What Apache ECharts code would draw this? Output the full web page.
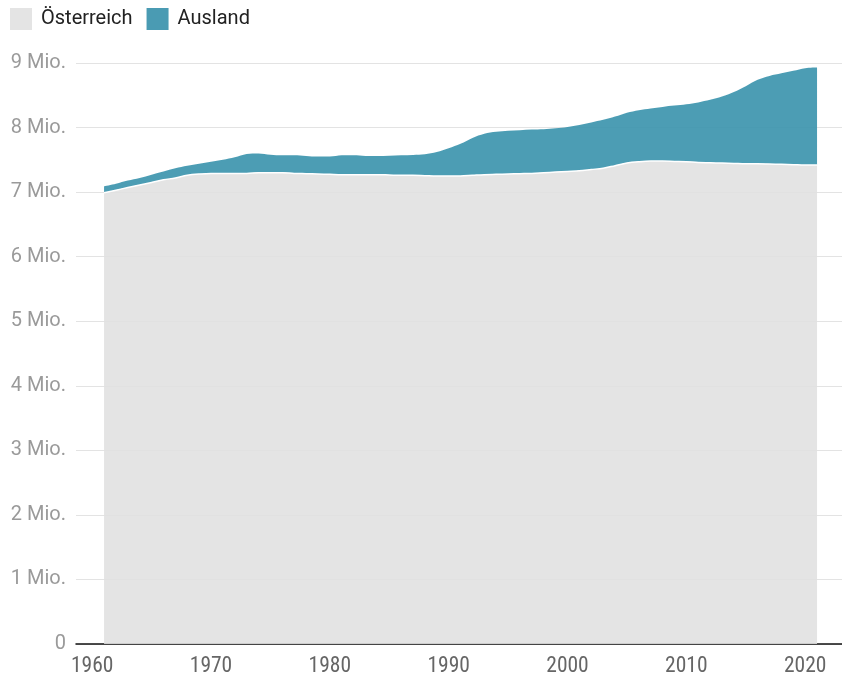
<!DOCTYPE html>
<html><head><meta charset="utf-8">
<script src="https://cdn.jsdelivr.net/npm/echarts@6/dist/echarts.min.js"></script>
<style>html,body{margin:0;padding:0;background:#fff}#c{width:842px;height:676px}</style>
</head><body><div id="c"></div>
<script>
const years = [];
for (let y = 1961; y <= 2021; y++) years.push(y);
const oesterreich = [6.99,7.03,7.07,7.11,7.15,7.19,7.22,7.26,7.28,7.29,
  7.29,7.29,7.29,7.30,7.30,7.30,7.29,7.285,7.28,7.275,
  7.27,7.27,7.27,7.27,7.265,7.26,7.26,7.255,7.25,7.25,
  7.25,7.26,7.27,7.275,7.28,7.285,7.29,7.30,7.31,7.32,
  7.33,7.35,7.37,7.41,7.45,7.47,7.48,7.48,7.475,7.47,
  7.46,7.455,7.45,7.445,7.44,7.44,7.435,7.43,7.425,7.42,7.42];
const ausland = [0.10,0.10,0.11,0.11,0.12,0.13,0.15,0.15,0.16,0.18,
  0.21,0.25,0.30,0.30,0.28,0.27,0.28,0.275,0.27,0.275,
  0.30,0.30,0.29,0.29,0.30,0.31,0.315,0.33,0.37,0.43,
  0.50,0.58,0.635,0.66,0.67,0.675,0.68,0.675,0.68,0.69,
  0.71,0.73,0.75,0.76,0.78,0.80,0.815,0.84,0.865,0.89,
  0.93,0.975,1.03,1.105,1.20,1.30,1.365,1.41,1.455,1.50,1.51];
const xTicks = [1960,1970,1980,1990,2000,2010,2020];

const chart = echarts.init(document.getElementById('c'), null, {renderer:'canvas'});
chart.setOption({
  animation: false,
  legend: {
    left: 10, top: 8, padding: 0, itemWidth: 22, itemHeight: 22, itemGap: 14, icon: 'rect',
    textStyle: {fontFamily: 'Roboto', fontSize: 20, color: '#222', padding: [0,0,0,4]},
    data: [{name: 'Österreich', itemStyle: {color: '#e4e4e4', opacity: 1}}, {name: 'Ausland', itemStyle: {color: '#4a9bb3', opacity: 1}}]
  },
  grid: {left: 76, right: 0, top: 63, bottom: 32, containLabel: false, outerBoundsMode: 'none'},
  xAxis: {
    type: 'value', min: 1958.64, max: 2023.1,
    splitLine: {show: false},
    axisTick: {show: false},
    axisLine: {show: true, lineStyle: {color: '#111', width: 1.5}},
    axisLabel: {
      customValues: xTicks, margin: 12,
      fontFamily: 'Liberation Sans Narrow, Roboto Condensed, Roboto', fontSize: 21.5, color: '#666',
      formatter: v => String(v)
    }
  },
  yAxis: {
    type: 'value', min: 0, max: 9, interval: 1,
    axisLine: {show: false}, axisTick: {show: false},
    splitLine: {lineStyle: {color: '#e3e3e3', width: 1.2}},
    axisLabel: {
      margin: 10, fontFamily: 'Roboto', fontSize: 20, color: '#9a9a9a',
      formatter: v => v === 0 ? '0' : v + ' Mio.'
    }
  },
  series: [
    {
      name: 'Österreich', type: 'line', stack: 'total', smooth: 0.35, symbol: 'none', z: 4,
      encode: {x: 1, y: 0},
      itemStyle: {color: '#e4e4e4'},
      lineStyle: {color: '#ffffff', width: 1.5},
      areaStyle: {color: '#e0e0e0', opacity: 0.88},
      data: years.map((y, i) => [oesterreich[i], y])
    },
    {
      name: 'Ausland', type: 'line', stack: 'total', smooth: 0.35, symbol: 'none', z: 2,
      encode: {x: 1, y: 0},
      itemStyle: {color: '#4a9bb3'},
      lineStyle: {width: 0, opacity: 0},
      areaStyle: {color: '#3d95ae', opacity: 0.92},
      data: years.map((y, i) => [ausland[i], y])
    }
  ]
});
</script></body></html>
